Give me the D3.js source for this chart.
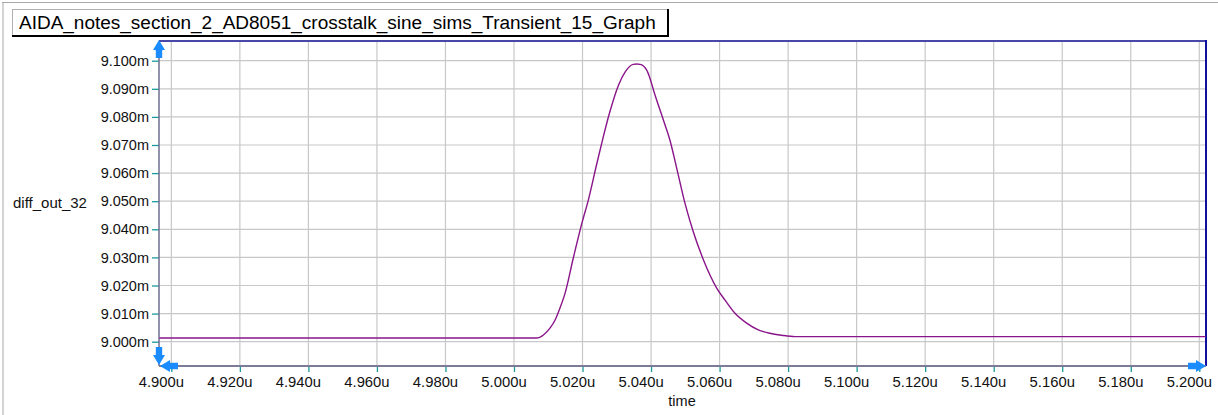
<!DOCTYPE html>
<html>
<head>
<meta charset="utf-8">
<script src="https://cdn.jsdelivr.net/npm/d3@7"></script>
<style>
  html, body { margin: 0; padding: 0; background: #ffffff; }
  svg { display: block; }
  text { font-family: "Liberation Sans", Arial, Helvetica, sans-serif; }
</style>
</head>
<body>
<svg id="chart" width="1218" height="415"></svg>
<script>
// Transient trace of diff_out_32 (time in microseconds, value in millivolt units "m")
const timeUs = [
  4.8965, 5.0066, 5.0086, 5.0105, 5.0120, 5.0134, 5.0149, 5.0173, 5.0198, 5.0217,
  5.0242, 5.0256, 5.0280, 5.0305, 5.0325, 5.0348, 5.0358, 5.0368, 5.0387, 5.0397,
  5.0407, 5.0436, 5.0455, 5.0475, 5.0499, 5.0523, 5.0553, 5.0592, 5.0616, 5.0645,
  5.0679, 5.0713, 5.0747, 5.0781, 5.0820, 5.2019
];
const diffOut32 = [
  9.0013, 9.0013, 9.0024, 9.0048, 9.0077, 9.0119, 9.0172, 9.0297, 9.0421, 9.0504,
  9.0635, 9.0706, 9.0819, 9.0913, 9.0961, 9.0987, 9.0988, 9.0987, 9.0967, 9.0937,
  9.0896, 9.0789, 9.0718, 9.0617, 9.0493, 9.0392, 9.0291, 9.0190, 9.0148, 9.0101,
  9.0066, 9.0042, 9.0030, 9.0023, 9.0018, 9.0018
];

// Axis ticks and their labels
const xTickValues = [4.90, 4.92, 4.94, 4.96, 4.98, 5.00, 5.02, 5.04, 5.06, 5.08, 5.10, 5.12, 5.14, 5.16, 5.18, 5.20];
const xTickLabels = ["4.900u", "4.920u", "4.940u", "4.960u", "4.980u", "5.000u", "5.020u", "5.040u",
                     "5.060u", "5.080u", "5.100u", "5.120u", "5.140u", "5.160u", "5.180u", "5.200u"];
const yTickValues = [9.000, 9.010, 9.020, 9.030, 9.040, 9.050, 9.060, 9.070, 9.080, 9.090, 9.100];
const yTickLabels = ["9.000m", "9.010m", "9.020m", "9.030m", "9.040m", "9.050m",
                     "9.060m", "9.070m", "9.080m", "9.090m", "9.100m"];

const titleText = "AIDA_notes_section_2_AD8051_crosstalk_sine_sims_Transient_15_Graph";
const yAxisTitle = "diff_out_32";
const xAxisTitle = "time";

const svg = d3.select("#chart");
const W = 1218, H = 415;
const plot = { left: 159, right: 1206, top: 41, bottom: 366 };

const x = d3.scaleLinear().domain([4.8964, 5.20196]).range([plot.left, plot.right]);
const y = d3.scaleLinear().domain([8.99135, 9.10701]).range([plot.bottom, plot.top]);

// Sunken outer frame (top and left edges)
svg.append("line").attr("x1", 2).attr("x2", W).attr("y1", 2.5).attr("y2", 2.5)
  .attr("stroke", "#a9a9a9").attr("stroke-width", 1);
svg.append("line").attr("x1", 3).attr("x2", 3).attr("y1", 2).attr("y2", H)
  .attr("stroke", "#a9a9a9").attr("stroke-width", 1);

// Title box with a dark drop edge on the right and bottom
const titleG = svg.append("g");
const tText = titleG.append("text")
  .attr("x", 19).attr("y", 29)
  .attr("font-size", 17).attr("fill", "#000")
  .text(titleText);
const tw = tText.node().getComputedTextLength();
const targetW = 637;
tText.attr("font-size", 17 * targetW / tw);
titleG.insert("rect", "text")
  .attr("x", 12.5).attr("y", 9.5).attr("width", 655).attr("height", 26)
  .attr("fill", "#fff").attr("stroke", "#b0b0b0").attr("stroke-width", 1);
titleG.append("line").attr("x1", 12).attr("x2", 669).attr("y1", 36).attr("y2", 36)
  .attr("stroke", "#000").attr("stroke-width", 2);
titleG.append("line").attr("x1", 668).attr("x2", 668).attr("y1", 9).attr("y2", 37)
  .attr("stroke", "#000").attr("stroke-width", 2);

// Grid
const grid = svg.append("g");
grid.selectAll("line.v").data(xTickValues).join("line")
  .attr("x1", d => x(d)).attr("x2", d => x(d))
  .attr("y1", plot.top).attr("y2", plot.bottom)
  .attr("stroke", "#c8c8c8").attr("stroke-width", 1.2);
grid.selectAll("line.h").data(yTickValues).join("line")
  .attr("x1", plot.left).attr("x2", plot.right)
  .attr("y1", d => y(d)).attr("y2", d => y(d))
  .attr("stroke", "#c8c8c8").attr("stroke-width", 1.2);

// Y axis
const yAxis = d3.axisLeft(y).tickValues(yTickValues)
  .tickFormat((d, i) => yTickLabels[i]).tickSize(7).tickPadding(3);
const gy = svg.append("g").attr("transform", `translate(${plot.left},0)`).call(yAxis);
gy.select(".domain").remove();
gy.selectAll(".tick line").attr("stroke", "#1a9a9a").attr("stroke-width", 1.3);
gy.selectAll(".tick text").attr("font-size", 14.5).attr("fill", "#111")
  .attr("font-family", "'Liberation Sans', Arial, sans-serif");

// X axis (labels sit slightly left of their ticks)
const xAxis = d3.axisBottom(x).tickValues(xTickValues)
  .tickFormat((d, i) => xTickLabels[i]).tickSize(6).tickPadding(4);
const gx = svg.append("g").attr("transform", `translate(0,${plot.bottom})`).call(xAxis);
gx.select(".domain").remove();
gx.selectAll(".tick line").attr("stroke", "#1a9a9a").attr("stroke-width", 1.3);
gx.selectAll(".tick text").attr("font-size", 14.8).attr("fill", "#111").attr("x", -10.5)
  .attr("font-family", "'Liberation Sans', Arial, sans-serif");

// Plot frame: axis lines and border
svg.append("line").attr("x1", plot.left).attr("x2", plot.right).attr("y1", plot.top).attr("y2", plot.top)
  .attr("stroke", "#4848a8").attr("stroke-width", 2);
svg.append("line").attr("x1", plot.right).attr("x2", plot.right).attr("y1", plot.top - 1).attr("y2", plot.bottom)
  .attr("stroke", "#1010a0").attr("stroke-width", 2);
svg.append("line").attr("x1", plot.left).attr("x2", plot.left).attr("y1", plot.top).attr("y2", plot.bottom)
  .attr("stroke", "#6e6e90").attr("stroke-width", 1.5);
svg.append("line").attr("x1", plot.left).attr("x2", plot.right).attr("y1", plot.bottom).attr("y2", plot.bottom)
  .attr("stroke", "#7c7c98").attr("stroke-width", 2);

// Trace
svg.append("clipPath").attr("id", "plotClip").append("rect")
  .attr("x", plot.left).attr("y", plot.top).attr("width", plot.right - plot.left).attr("height", plot.bottom - plot.top);
const pts = timeUs.map((t, i) => [t, diffOut32[i]]);
const line = d3.line().x(d => x(d[0])).y(d => y(d[1])).curve(d3.curveMonotoneX);
svg.append("path").datum(pts)
  .attr("clip-path", "url(#plotClip)")
  .attr("d", line)
  .attr("fill", "none").attr("stroke", "#8a148a").attr("stroke-width", 1.4);

// Axis scroll arrows
const arrowBlue = "#1a8cff";
function arrow(cx, cy, angle) {
  // arrow pointing up by default, tip at (0,0)
  svg.append("path")
    .attr("d", "M0,0 L6,10 L3.2,10 L3.2,18 L-3.2,18 L-3.2,10 L-6,10 Z")
    .attr("transform", `translate(${cx},${cy}) rotate(${angle})`)
    .attr("fill", arrowBlue);
}
arrow(plot.left, plot.top - 1, 0);          // y axis, top
arrow(plot.left, plot.bottom - 1, 180);     // y axis, bottom
arrow(plot.left + 1, plot.bottom, -90);     // x axis, left
arrow(plot.right, plot.bottom, 90);         // x axis, right

// Axis titles
svg.append("text").attr("x", 13).attr("y", 208)
  .attr("font-size", 15).attr("fill", "#111").text(yAxisTitle);
svg.append("text").attr("x", 682).attr("y", 406)
  .attr("text-anchor", "middle").attr("font-size", 14.5).attr("fill", "#111").text(xAxisTitle);
</script>
</body>
</html>
